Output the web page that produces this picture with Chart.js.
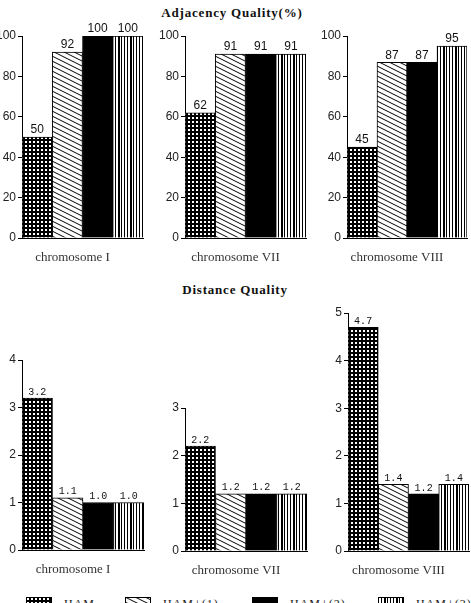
<!DOCTYPE html>
<html>
<head>
<meta charset="utf-8">
<script src="https://cdn.jsdelivr.net/npm/chart.js@4"></script>
<style>
  html, body { margin: 0; padding: 0; background: #fff; }
  body { width: 471px; height: 603px; position: relative; overflow: hidden; }
  canvas.chart { position: absolute; }
  .title { position: absolute; font: bold 13px "Liberation Serif", serif; letter-spacing: 0.8px;
           color: #111; transform: translate(-50%, -50%); white-space: nowrap; }
  .leg { position: absolute; top: 597px; font: 12px "Liberation Serif", serif; letter-spacing: 1px; color: #222; white-space: nowrap; }
  .leg canvas { position: absolute; left: 0; top: 0; }
  .leg span { position: absolute; top: 0; }
</style>
</head>
<body>
<div class="title" style="left:232px;top:13px">Adjacency Quality(%)</div>
<div class="title" style="left:235px;top:290px">Distance Quality</div>

<script>
// ── Data ──────────────────────────────────────────────────────────────────────
const chromosomes = ['chromosome I', 'chromosome VII', 'chromosome VIII'];
const methods     = ['HAM', 'HAM+(1)', 'HAM+(2)', 'HAM+(3)'];

const adjHAM  = [50, 62, 45];
const adjHAM1 = [92, 91, 87];
const adjHAM2 = [100, 91, 87];
const adjHAM3 = [100, 91, 95];
const adjTicks = [0, 20, 40, 60, 80, 100];

const distHAM  = [3.2, 2.2, 4.7];
const distHAM1 = [1.1, 1.2, 1.4];
const distHAM2 = [1.0, 1.2, 1.2];
const distHAM3 = [1.0, 1.2, 1.4];
const distMax  = [4, 3, 5];

// ── Fill patterns ─────────────────────────────────────────────────────────────
function tile(w, h, draw) {
  const c = document.createElement('canvas');
  c.width = w; c.height = h;
  draw(c.getContext('2d'));
  return c;
}

const tiles = [
  tile(4, 4, g => { g.fillStyle = '#000'; g.fillRect(0, 0, 4, 4); g.fillStyle = '#fff'; g.fillRect(1, 1, 2, 2); }),
  tile(10, 5, g => {
    g.fillStyle = '#fff'; g.fillRect(0, 0, 10, 5);
    g.strokeStyle = '#000'; g.lineWidth = 1;
    [-5, 0, 5].forEach(c => { g.beginPath(); g.moveTo(0, c); g.lineTo(10, c + 5); g.stroke(); });
  }),
  tile(2, 2, g => { g.fillStyle = '#000'; g.fillRect(0, 0, 2, 2); }),
  tile(12, 2, g => {
    g.fillStyle = '#fff'; g.fillRect(0, 0, 12, 2);
    g.fillStyle = '#000';
    g.fillRect(0, 0, 1, 2); g.fillRect(3, 0, 1, 2); g.fillRect(6, 0, 2, 2); g.fillRect(9, 0, 1, 2);
  })
];

function patterns(ctx) { return tiles.map(t => ctx.createPattern(t, 'repeat')); }

// ── Value labels above bars ───────────────────────────────────────────────────
const valueLabels = {
  id: 'valueLabels',
  afterDatasetsDraw(chart, args, opts) {
    const ctx = chart.ctx;
    ctx.save();
    ctx.font = opts.font;
    ctx.fillStyle = '#111';
    ctx.textAlign = 'center';
    ctx.textBaseline = 'bottom';
    chart.data.datasets.forEach((ds, i) => {
      const bar = chart.getDatasetMeta(i).data[0];
      const v = ds.data[0];
      ctx.fillText(opts.decimals ? v.toFixed(opts.decimals) : String(v), bar.x, bar.y - 1);
    });
    ctx.restore();
  }
};

// ── One chart per chromosome / measure ────────────────────────────────────────
function makeChart(box, label, values, max, step, labelFont, decimals) {
  const cv = document.createElement('canvas');
  cv.className = 'chart';
  const w = box.right - box.axis + 32;
  const h = box.bottom - box.top + 50;
  cv.width = w; cv.height = h;
  cv.style.left = (box.axis - 30) + 'px';
  cv.style.top  = (box.top - 20) + 'px';
  document.body.appendChild(cv);
  const fills = patterns(cv.getContext('2d'));

  new Chart(cv, {
    type: 'bar',
    data: {
      labels: [label],
      datasets: methods.map((m, i) => ({
        label: m,
        data: [values[i]],
        backgroundColor: fills[i],
        borderColor: '#000',
        borderWidth: 1,
        barPercentage: 1,
        categoryPercentage: 1
      }))
    },
    options: {
      responsive: false,
      devicePixelRatio: 1,
      animation: false,
      layout: { padding: { top: 20, right: 2, left: 0, bottom: 0 } },
      plugins: {
        legend: { display: false },
        tooltip: { enabled: false },
        valueLabels: { font: labelFont, decimals }
      },
      scales: {
        x: {
          grid: { display: false, drawTicks: false },
          border: { display: true, color: '#000', width: 1 },
          ticks: { color: '#333', font: { family: 'Liberation Serif', size: 13 }, padding: 12, labelOffset: -10, maxRotation: 0 },
          afterFit: s => { s.height = 30; }
        },
        y: {
          min: 0, max,
          grid: { drawOnChartArea: false, drawTicks: true, tickLength: 4, color: '#000' },
          border: { display: true, color: '#000', width: 1 },
          ticks: { stepSize: step, color: '#222', font: { family: 'Liberation Sans', size: 12 }, padding: 2 },
          afterFit: s => { s.width = 30; }
        }
      }
    },
    plugins: [valueLabels]
  });
}

const topBoxes = [
  { axis: 22,  right: 143, top: 36, bottom: 238 },
  { axis: 185, right: 306, top: 36, bottom: 238 },
  { axis: 347, right: 467, top: 36, bottom: 238 }
];
const botAxis  = [22, 185, 348];
const botRight = [144, 307, 469];

chromosomes.forEach((c, k) => {
  makeChart(topBoxes[k], c, [adjHAM[k], adjHAM1[k], adjHAM2[k], adjHAM3[k]],
            adjTicks[adjTicks.length - 1], adjTicks[1] - adjTicks[0], '12px "Liberation Sans"', 0);
  const bottom = 551;
  const top = bottom - distMax[k] * 47.7;
  makeChart({ axis: botAxis[k], right: botRight[k], top, bottom }, c,
            [distHAM[k], distHAM1[k], distHAM2[k], distHAM3[k]],
            distMax[k], 1, '10px "Liberation Mono"', 1);
});

// ── Legend ────────────────────────────────────────────────────────────────────
const legendX = [26, 125, 252, 378];
methods.forEach((m, i) => {
  const d = document.createElement('div');
  d.className = 'leg';
  d.style.left = legendX[i] + 'px';
  const sw = document.createElement('canvas');
  sw.width = 26; sw.height = 14;
  const g = sw.getContext('2d');
  g.fillStyle = g.createPattern(tiles[i], 'repeat');
  g.fillRect(0, 0, 26, 14);
  g.strokeStyle = '#000';
  g.strokeRect(0.5, 0.5, 25, 13);
  const t = document.createElement('span');
  t.style.left = '38px';
  t.textContent = m;
  d.appendChild(sw);
  d.appendChild(t);
  document.body.appendChild(d);
});
</script>
</body>
</html>
